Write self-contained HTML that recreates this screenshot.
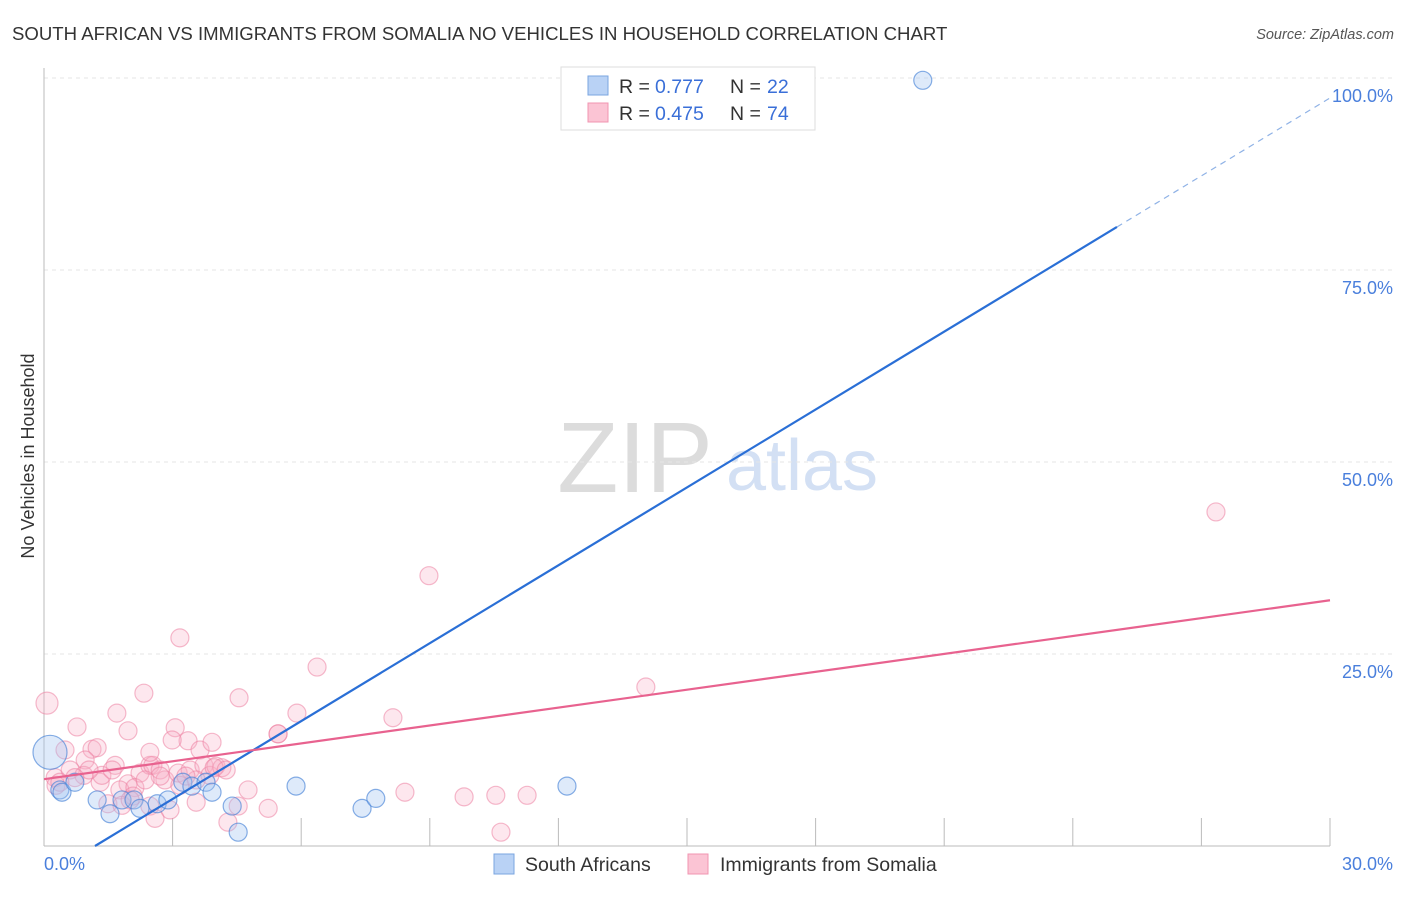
<!DOCTYPE html>
<html><head><meta charset="utf-8"><style>
body{margin:0;background:#fff;font-family:"Liberation Sans",sans-serif;}
svg text{font-family:"Liberation Sans",sans-serif;}
</style></head><body>
<svg id="chart" width="1406" height="892" xmlns="http://www.w3.org/2000/svg">
<text x="12" y="40" font-size="18.6" fill="#333">SOUTH AFRICAN VS IMMIGRANTS FROM SOMALIA NO VEHICLES IN HOUSEHOLD CORRELATION CHART</text>
<text x="1394" y="39" font-size="14.5" fill="#555" text-anchor="end" font-style="italic">Source: ZipAtlas.com</text>
<text transform="translate(34,456) rotate(-90)" font-size="18" fill="#333" text-anchor="middle">No Vehicles in Household</text>
<g>
<text x="635" y="492" font-size="100" fill="#dcdcdc" text-anchor="middle" font-family="Liberation Serif">ZIP</text>
<text x="802" y="490" font-size="72" fill="#d3e0f4" text-anchor="middle">atlas</text>
</g>
<g id="grid"></g>
<g id="axes"></g>
<g id="pts"></g>
<g id="lines"></g>
<g>
<rect x="561" y="67" width="254" height="63" fill="#fff" stroke="#ddd"/>
<rect x="588" y="76" width="20" height="19" fill="#b9d2f5" stroke="#7aa5e0"/>
<rect x="588" y="103" width="20" height="19" fill="#fbc4d4" stroke="#f095b1"/>
<text x="619" y="93" font-size="19.5" fill="#333">R =</text>
<text x="655" y="93" font-size="19.5" fill="#3a6fd8">0.777</text>
<text x="730" y="93" font-size="19.5" fill="#333">N =</text>
<text x="767" y="93" font-size="19.5" fill="#3a6fd8">22</text>
<text x="619" y="120" font-size="19.5" fill="#333">R =</text>
<text x="655" y="120" font-size="19.5" fill="#3a6fd8">0.475</text>
<text x="730" y="120" font-size="19.5" fill="#333">N =</text>
<text x="767" y="120" font-size="19.5" fill="#3a6fd8">74</text>
</g>
<g>
<rect x="494" y="854" width="20" height="20" fill="#b9d2f5" stroke="#7aa5e0"/>
<text x="525" y="871" font-size="19.5" fill="#333">South Africans</text>
<rect x="688" y="854" width="20" height="20" fill="#fbc4d4" stroke="#f095b1"/>
<text x="720" y="871" font-size="19.5" fill="#333">Immigrants from Somalia</text>
</g>
</svg>
<script>
const yTicks=[25,50,75,100];
const yTickLabels=["25.0%","50.0%","75.0%","100.0%"];
const xTicks=[0,3,6,9,12,15,18,21,24,27,30];
const blueX=[0.14,0.37,0.42,0.72,1.24,1.54,1.82,2.10,2.24,2.64,2.89,3.24,3.45,3.78,3.92,4.39,4.53,5.88,7.42,7.74,12.2,20.5];
const blueY=[12.2,7.3,7.0,8.3,6.0,4.2,6.0,6.0,4.9,5.5,6.0,8.3,7.8,8.3,7.0,5.2,1.8,7.8,4.9,6.2,7.8,99.7];
const pinkX=[0.07,3.17,2.33,0.77,1.70,1.96,4.55,6.37,8.98,27.34,14.04,8.14,5.90,5.46,3.06,3.36,3.64,1.12,1.24,0.49,0.96,0.26,0.61,0.93,1.31,1.66,1.96,2.24,2.47,2.54,2.71,2.82,3.13,3.41,3.73,3.87,4.01,4.15,0.28,1.35,1.77,2.12,2.71,3.17,3.55,3.97,1.49,1.82,2.08,2.47,2.59,2.94,3.55,4.29,4.53,4.76,5.23,8.42,9.80,10.54,11.27,10.66,2.01,4.25,1.05,0.72,1.59,2.36,3.31,0.37,2.47,2.99,3.92,5.46];
const pinkY=[18.6,27.1,19.9,15.5,17.3,15.0,19.3,23.3,35.2,43.5,20.7,16.7,17.3,14.6,15.4,13.7,12.5,12.6,12.8,12.5,11.2,8.9,9.9,9.2,8.3,10.5,8.1,9.5,10.5,10.5,9.9,8.6,9.5,9.9,10.5,9.2,10.4,10.2,7.9,9.2,7.3,7.6,9.1,7.9,8.6,10.2,5.5,5.3,6.5,5.2,3.6,4.7,5.7,3.1,5.2,7.3,4.9,7.0,6.4,6.6,6.6,1.8,6.0,9.9,9.9,8.9,9.9,8.6,9.1,8.3,12.2,13.8,13.5,14.6];
const blueLine=[1.19,0,25.03,80.6,30,97.4];
const pinkLine=[0,8.7,30,32.0];
const X=v=>44+v/30*1286, Y=v=>846-v/100*768;
const NS="http://www.w3.org/2000/svg";
function mk(p,t,a){const e=document.createElementNS(NS,t);for(const k in a)e.setAttribute(k,a[k]);p.appendChild(e);return e;}
const grid=document.getElementById('grid'),axes=document.getElementById('axes'),pts=document.getElementById('pts'),lines=document.getElementById('lines');
yTicks.forEach((t,i)=>{
 const l=mk(grid,'line',{x1:44,x2:1393,y1:Y(t),y2:Y(t),stroke:'#e6e6e6','stroke-dasharray':'4,4'});
 
 
 const tx=mk(grid,'text',{x:1393,y:Y(t)+24,'font-size':18,fill:'#4a7fdc','text-anchor':'end'});
 tx.textContent=yTickLabels[i];
 
 
});
const ax=mk(axes,'line',{x1:44,x2:44,y1:68,y2:846,stroke:'#bbb'});


const bx=mk(axes,'line',{x1:44,x2:1330,y1:846,y2:846,stroke:'#bbb'});


xTicks.forEach(t=>{
 const l=mk(axes,'line',{x1:X(t),x2:X(t),y1:818,y2:846,stroke:'#bbb'});
 
 
});
const xl0=mk(axes,'text',{x:44,y:870,'font-size':18,fill:'#4a7fdc'});xl0.textContent='0.0%';


const xl1=mk(axes,'text',{x:1393,y:870,'font-size':18,fill:'#4a7fdc','text-anchor':'end'});xl1.textContent='30.0%';


pinkX.forEach((v,i)=>{
 const c=mk(pts,'circle',{cx:X(v),cy:Y(pinkY[i]),r:i==0?11:9,fill:'rgba(248,175,198,0.3)',stroke:'rgba(236,130,162,0.55)','stroke-width':1.2});
 
 
});
blueX.forEach((v,i)=>{
 const c=mk(pts,'circle',{cx:X(v),cy:Y(blueY[i]),r:i==0?17:9,fill:'rgba(160,195,240,0.35)',stroke:'rgba(70,130,215,0.65)','stroke-width':1.2});
 
 
});
const b1=mk(lines,'line',{x1:X(blueLine[0]),y1:Y(blueLine[1]),x2:X(blueLine[2]),y2:Y(blueLine[3]),stroke:'#2a6fd6','stroke-width':2.2});


const b2=mk(lines,'line',{x1:X(blueLine[2]),y1:Y(blueLine[3]),x2:X(blueLine[4]),y2:Y(blueLine[5]),stroke:'#8fb2e6','stroke-width':1.2,'stroke-dasharray':'6,5'});


const p1=mk(lines,'line',{x1:X(pinkLine[0]),y1:Y(pinkLine[1]),x2:X(pinkLine[2]),y2:Y(pinkLine[3]),stroke:'#e8628f','stroke-width':2.2});


</script>
</body></html>
